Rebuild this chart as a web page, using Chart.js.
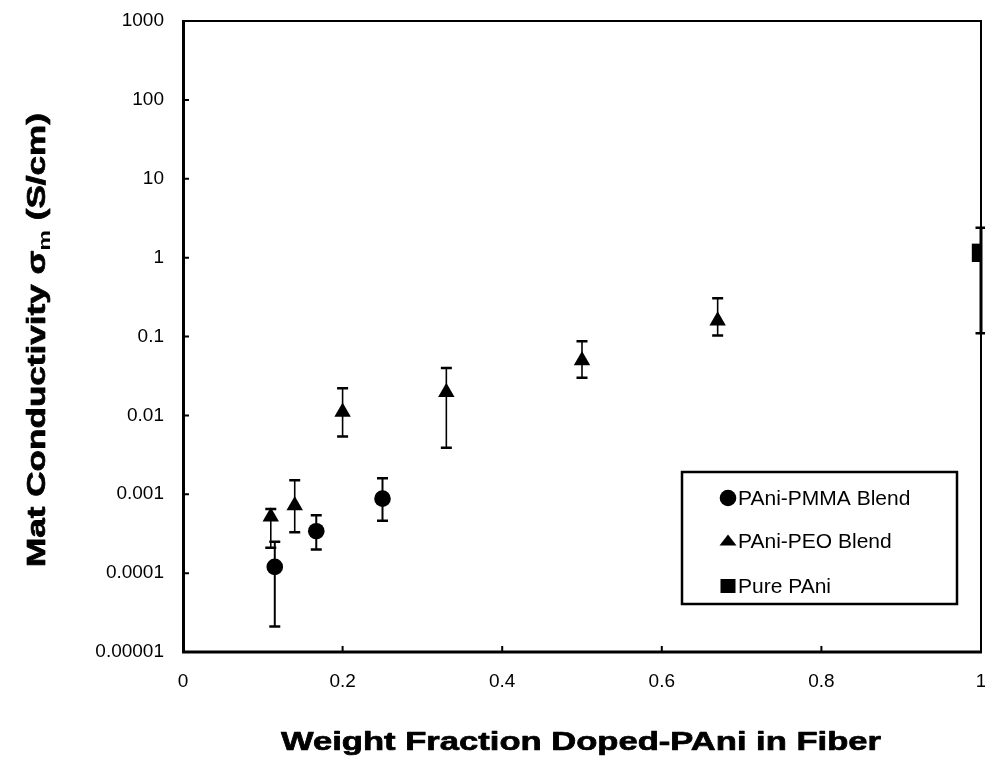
<!DOCTYPE html>
<html><head><meta charset="utf-8">
<script src="https://cdn.jsdelivr.net/npm/chart.js@4.4.1/dist/chart.umd.min.js"></script>
<style>html,body{margin:0;padding:0;background:#fff;}canvas{display:block;}</style>
</head><body>
<canvas id="c" width="985" height="763"></canvas>
<script>
// ---- data ----
const seriesNames = ['PAni-PMMA Blend', 'PAni-PEO Blend', 'Pure PAni'];

const pmmaX  = [0.115, 0.167, 0.25];
const pmmaY  = [1.2e-4, 3.4e-4, 8.8e-4];
const pmmaHi = [2.5e-4, 5.4e-4, 1.6e-3];
const pmmaLo = [2.1e-5, 2.0e-4, 4.6e-4];

const peoX  = [0.11, 0.14, 0.2, 0.33, 0.5, 0.67];
const peoY  = [5.2e-4, 7.2e-4, 0.011, 0.0197, 0.0497, 0.158];
const peoHi = [6.5e-4, 1.5e-3, 0.022, 0.040, 0.087, 0.305];
const peoLo = [2.1e-4, 3.3e-4, 0.0054, 0.0039, 0.030, 0.103];

const pureX  = [1];
const pureY  = [1.15];
const pureHi = [2.4];
const pureLo = [0.11];

const xTicks = [0, 0.2, 0.4, 0.6, 0.8, 1];
const xTickLabels = ['0', '0.2', '0.4', '0.6', '0.8', '1'];
const yTicks = [1e-5, 1e-4, 1e-3, 1e-2, 1e-1, 1, 10, 100, 1000];
const yTickLabels = ['0.00001', '0.0001', '0.001', '0.01', '0.1', '1', '10', '100', '1000'];

const xTitle = 'Weight Fraction Doped-PAni in Fiber';
const yTitleParts = ['Mat Conductivity \u03c3', 'm', ' (S/cm)'];

const FONT = '"Liberation Sans", Arial, Helvetica, sans-serif';

function pts(xs, ys, hi, lo) {
  return xs.map((x, i) => ({ x: x, y: ys[i], hi: hi[i], lo: lo[i] }));
}

const styles = [
  { pointStyle: 'circle', pointRadius: 8.3, errW: 2, capW: 2.5 },
  { pointStyle: 'triangle', pointRadius: 9.5, errW: 1.6, capW: 2.5 },
  { pointStyle: 'rect', pointRadius: 13, errW: 3, capW: 2.5 }
];

const errorBars = {
  id: 'errorBars',
  beforeDatasetsDraw(chart) {
    const ctx = chart.ctx, xs = chart.scales.x, ys = chart.scales.y;
    chart.data.datasets.forEach((ds, di) => {
      const st = styles[di];
      ctx.save();
      ctx.strokeStyle = '#000';
      ds.data.forEach(p => {
        const px = xs.getPixelForValue(p.x);
        const t = ys.getPixelForValue(p.hi);
        const b = ys.getPixelForValue(p.lo);
        ctx.lineWidth = st.errW;
        ctx.beginPath(); ctx.moveTo(px, t); ctx.lineTo(px, b); ctx.stroke();
        ctx.lineWidth = st.capW;
        ctx.beginPath();
        ctx.moveTo(px - 5.5, t); ctx.lineTo(px + 5.5, t);
        ctx.moveTo(px - 5.5, b); ctx.lineTo(px + 5.5, b);
        ctx.stroke();
      });
      ctx.restore();
    });
  }
};

function drawLegendMarker(ctx, i, cx, cy) {
  ctx.beginPath();
  if (i === 0) {
    ctx.arc(cx, cy, 8.3, 0, Math.PI * 2);
  } else if (i === 1) {
    ctx.moveTo(cx - 8.5, cy + 5.5); ctx.lineTo(cx + 8.5, cy + 5.5); ctx.lineTo(cx, cy - 5.5); ctx.closePath();
  } else {
    ctx.rect(cx - 7.5, cy - 7, 15, 14);
  }
  ctx.fill();
}

const frame = {
  id: 'frame',
  afterDraw(chart) {
    const ctx = chart.ctx, a = chart.chartArea, xs = chart.scales.x, ys = chart.scales.y;
    ctx.save();
    ctx.strokeStyle = '#000';
    // frame
    ctx.lineWidth = 2;
    ctx.beginPath(); ctx.moveTo(a.left, a.top); ctx.lineTo(a.right, a.top); ctx.lineTo(a.right, a.bottom); ctx.stroke();
    ctx.lineWidth = 3;
    ctx.beginPath(); ctx.moveTo(a.left + 0.5, a.top - 1); ctx.lineTo(a.left + 0.5, a.bottom); ctx.lineTo(a.right + 1, a.bottom); ctx.stroke();
    // inward ticks
    ctx.lineWidth = 2;
    ctx.beginPath();
    ys.ticks.forEach(t => { const py = ys.getPixelForValue(t.value); ctx.moveTo(a.left, py); ctx.lineTo(a.left + 6, py); });
    xs.ticks.forEach(t => { const px = xs.getPixelForValue(t.value); ctx.moveTo(px, a.bottom); ctx.lineTo(px, a.bottom - 6); });
    ctx.stroke();

    // legend box
    const bx = 682, by = 472, bw = 275, bh = 132;
    ctx.lineWidth = 2.5;
    ctx.strokeRect(bx, by, bw, bh);
    const rowY = [498, 541, 586];
    ctx.fillStyle = '#000';
    ctx.font = '21px ' + FONT;
    ctx.textBaseline = 'middle';
    ctx.textAlign = 'left';
    chart.data.datasets.forEach((ds, i) => {
      ctx.fillStyle = '#000';
      drawLegendMarker(ctx, i, 728, rowY[i] - (i === 1 ? 1 : 0));
      ctx.fillText(ds.label, 738, rowY[i] + 1);
    });

    // x title (stretched horizontally like the reference)
    ctx.font = 'bold 26px ' + FONT;
    ctx.textBaseline = 'alphabetic';
    ctx.textAlign = 'left';
    ctx.lineWidth = 0.7;
    ctx.lineJoin = 'round';
    const xw = ctx.measureText(xTitle).width;
    const xsx = 600 / xw;
    ctx.save();
    ctx.translate(581, 750);
    ctx.scale(xsx, 1);
    ctx.fillText(xTitle, -xw / 2, 0);
    ctx.strokeText(xTitle, -xw / 2, 0);
    ctx.restore();

    // y title with subscript
    const big = 'bold 26px ' + FONT, small = 'bold 17px ' + FONT;
    ctx.font = big; const w0 = ctx.measureText(yTitleParts[0]).width;
    ctx.font = small; const w1 = ctx.measureText(yTitleParts[1]).width;
    ctx.font = big; const w2 = ctx.measureText(yTitleParts[2]).width;
    const tot = w0 + w1 + w2;
    const ysx = 454 / tot;
    ctx.save();
    ctx.translate(45, 340);
    ctx.rotate(-Math.PI / 2);
    ctx.scale(ysx, 1);
    let cx = -tot / 2;
    ctx.font = big; ctx.fillText(yTitleParts[0], cx, 0); ctx.strokeText(yTitleParts[0], cx, 0); cx += w0;
    ctx.font = small; ctx.fillText(yTitleParts[1], cx, 5); cx += w1;
    ctx.font = big; ctx.fillText(yTitleParts[2], cx, 0); ctx.strokeText(yTitleParts[2], cx, 0);
    ctx.restore();

    ctx.restore();
  }
};

new Chart(document.getElementById('c'), {
  type: 'scatter',
  data: {
    datasets: [
      { label: seriesNames[0], data: pts(pmmaX, pmmaY, pmmaHi, pmmaLo) },
      { label: seriesNames[1], data: pts(peoX, peoY, peoHi, peoLo) },
      { label: seriesNames[2], data: pts(pureX, pureY, pureHi, pureLo) }
    ].map((d, i) => Object.assign(d, {
      pointStyle: styles[i].pointStyle,
      pointRadius: styles[i].pointRadius,
      pointHoverRadius: styles[i].pointRadius,
      backgroundColor: '#000',
      borderColor: '#000',
      pointBorderWidth: 0,
      showLine: false
    }))
  },
  options: {
    responsive: false,
    devicePixelRatio: 1,
    animation: false,
    layout: { autoPadding: false, padding: { left: 0, right: 4, top: 21, bottom: 0 } },
    plugins: { legend: { display: false }, tooltip: { enabled: false } },
    scales: {
      x: {
        type: 'linear', min: 0, max: 1,
        grid: { display: false, drawTicks: false },
        border: { display: false },
        afterBuildTicks: s => { s.ticks = xTicks.map(v => ({ value: v })); },
        afterFit: s => { s.height = 111; s.paddingLeft = 0; s.paddingRight = 0; },
        ticks: {
          padding: 18, maxRotation: 0, autoSkip: false,
          color: '#000', font: { family: FONT, size: 19 },
          callback: (v, i) => xTickLabels[i]
        }
      },
      y: {
        type: 'logarithmic', min: 1e-5, max: 1000,
        grid: { display: false, drawTicks: false },
        border: { display: false },
        afterBuildTicks: s => { s.ticks = yTicks.map(v => ({ value: v, major: true })); },
        afterFit: s => { s.width = 183; s.paddingTop = 0; s.paddingBottom = 0; },
        ticks: {
          padding: 19, autoSkip: false,
          color: '#000', font: { family: FONT, size: 19 },
          callback: (v, i) => yTickLabels[i]
        }
      }
    }
  },
  plugins: [errorBars, frame]
});
</script>
</body></html>
